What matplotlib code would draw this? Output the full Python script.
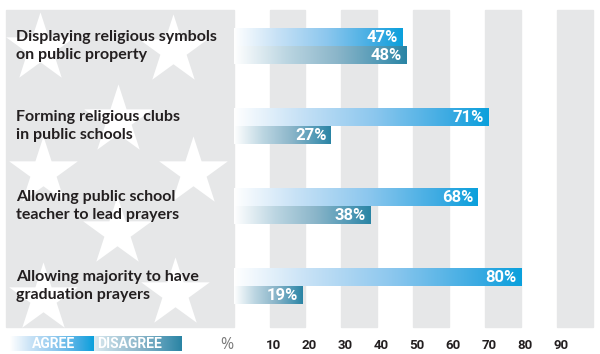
import numpy as np
import matplotlib.pyplot as plt
from matplotlib.colors import LinearSegmentedColormap
from matplotlib.patches import Rectangle
from matplotlib.transforms import ScaledTranslation

plt.rcParams.update({
    "font.family": ["Lato", "DejaVu Sans"],
    "figure.dpi": 100,
})

# ---------------- data ----------------

questions = [
    "Displaying religious symbols\non public property",
    "Forming religious clubs\nin public schools",
    "Allowing public school\nteacher to lead prayers",
    "Allowing majority to have\ngraduation prayers",
]
agree = [47, 71, 68, 80]
disagree = [48, 27, 38, 19]
ticks = [10, 20, 30, 40, 50, 60, 70, 80, 90]
stripes = [10, 30, 50, 70, 90]

# decorative stars on the label panel (x in %, y in group units)
star_x = [-54.0, -16.9, -32.2, -53.1, -11.3, -32.5, -53.1, -16.4]
star_y = [0.03, 0.05, 0.93, 1.58, 1.58, 2.33, 3.15, 3.09]

# ---------------- style ----------------

grey = "#e6e7e8"
ink = "#231f20"
agree_cmap = LinearSegmentedColormap.from_list(
    "agree",
    [(0, "#ffffff"), (0.25, "#c8e2f6"), (0.55, "#8cc7ee"),
     (0.85, "#3aaae2"), (1, "#0aa0dc")],
)
disagree_cmap = LinearSegmentedColormap.from_list(
    "disagree",
    [(0, "#ffffff"), (0.3, "#bcd6e2"), (0.6, "#8ab5c9"),
     (0.85, "#4f98b5"), (1, "#2a84a4")],
)
grad = np.linspace(0, 1, 256).reshape(1, -1)

bar_h = 0.225
top, bottom = -0.45, 3.51

fig = plt.figure(figsize=(6, 3.54))
ax = fig.add_axes([0, 0, 1, 1])
ax.axis("off")

# label panel and grey stripes
panel = Rectangle((-63.5, top), 63.5, bottom - top, color=grey, zorder=0)
ax.add_patch(panel)
for s in stripes:
    ax.add_patch(Rectangle((s, top), 10, bottom - top, color=grey, zorder=0))

stars = ax.scatter(star_x, star_y, s=2700, marker="*", color="white",
                   linewidths=0, zorder=1)
stars.set_clip_path(panel)

# gradient bars
for i, (q, a, d) in enumerate(zip(questions, agree, disagree)):
    for val, off, cmap in [(a, -bar_h / 2, agree_cmap),
                           (d, bar_h / 2, disagree_cmap)]:
        yc = i + off
        ax.imshow(grad, cmap=cmap, aspect="auto", interpolation="bilinear",
                  extent=[0, val, yc + bar_h / 2, yc - bar_h / 2], zorder=2)
        ax.annotate(f"{val}%", (val, yc), xytext=(-3.0, 0),
                    textcoords="offset points", ha="right", va="center",
                    color="white", fontsize=12, fontweight="bold",
                    family="Roboto", zorder=3)
    ax.text(-60.7, i, q, ha="left", va="center", color=ink, fontsize=11.5,
            fontweight="bold", linespacing=1.4, zorder=3)

# axis numbers
shift = ScaledTranslation(4 / 100, 0, fig.dpi_scale_trans)
for t in ticks:
    ax.text(t, 3.74, str(t), ha="center", va="center", color=ink,
            fontsize=9.5, fontweight="bold", family="Roboto",
            transform=ax.transData + shift)
ax.text(-1.8, 3.74, "%", ha="center", va="center", color="#7a7a7a",
        fontsize=11.5, family="Open Sans")

# legend
ly0, ly1 = 3.625, 3.8125
ax.imshow(grad, cmap=agree_cmap, aspect="auto", interpolation="bilinear",
          extent=[-62.3, -38.9, ly1, ly0], zorder=2)
ax.imshow(grad * 0.85 + 0.15, cmap=disagree_cmap, vmin=0, vmax=1,
          aspect="auto", interpolation="bilinear",
          extent=[-38.9, -14.6, ly1, ly0], zorder=2)
ax.text(-50.3, (ly0 + ly1) / 2, "AGREE", ha="center", va="center",
        color="white", fontsize=10, fontweight="bold", family="Roboto")
ax.text(-28.9, (ly0 + ly1) / 2, "DISAGREE", ha="center", va="center",
        color="white", fontsize=10, fontweight="bold", family="Roboto")

ax.set_xlim(-233.7 / 3.588, (600 - 233.7) / 3.588)
ax.set_ylim(3.85, -0.575)

plt.savefig("out.png", dpi=100)
plt.close()
